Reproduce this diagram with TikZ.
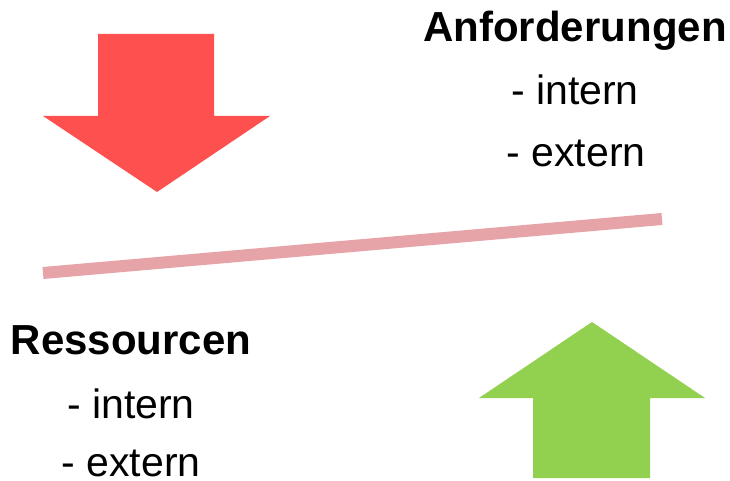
\documentclass[tikz,border=0pt]{standalone}
\usepackage{fontspec}
\setmainfont{Liberation Sans}
\definecolor{arrred}{HTML}{FF5050}
\definecolor{arrgreen}{HTML}{92D050}
\definecolor{linepink}{HTML}{E6A3A8}
\begin{document}
\begin{tikzpicture}[x=1pt,y=-1pt,
  lbl/.style={anchor=base,inner sep=0pt,font=\fontsize{41}{49}\selectfont},
  ttl/.style={lbl,font=\fontsize{42}{50}\selectfont\bfseries}]
\useasboundingbox (0,0) rectangle (730,481);
% red arrow down
\fill[arrred] (98,34) -- (214,34) -- (214,116) -- (270,116) -- (157,192) -- (43,116) -- (98,116) -- cycle;
% green arrow up
\fill[arrgreen] (592,322) -- (705,398) -- (650,398) -- (650,478) -- (533,478) -- (533,398) -- (479,398) -- cycle;
% balance line
\coordinate (l1) at (43,273);
\coordinate (l2) at (662,219);
\draw[linepink,line width=12pt] (l1) -- (l2);
% texts
\node[ttl] (anf) at (575,42) {Anforderungen};
\node[lbl] (anfi) at (575,105) {- intern};
\node[lbl] (anfe) at (576,167) {- extern};
\node[ttl] (res) at (131,354) {Ressourcen};
\node[lbl] (resi) at (131,418) {- intern};
\node[lbl] (rese) at (131,476) {- extern};
\end{tikzpicture}
\end{document}
